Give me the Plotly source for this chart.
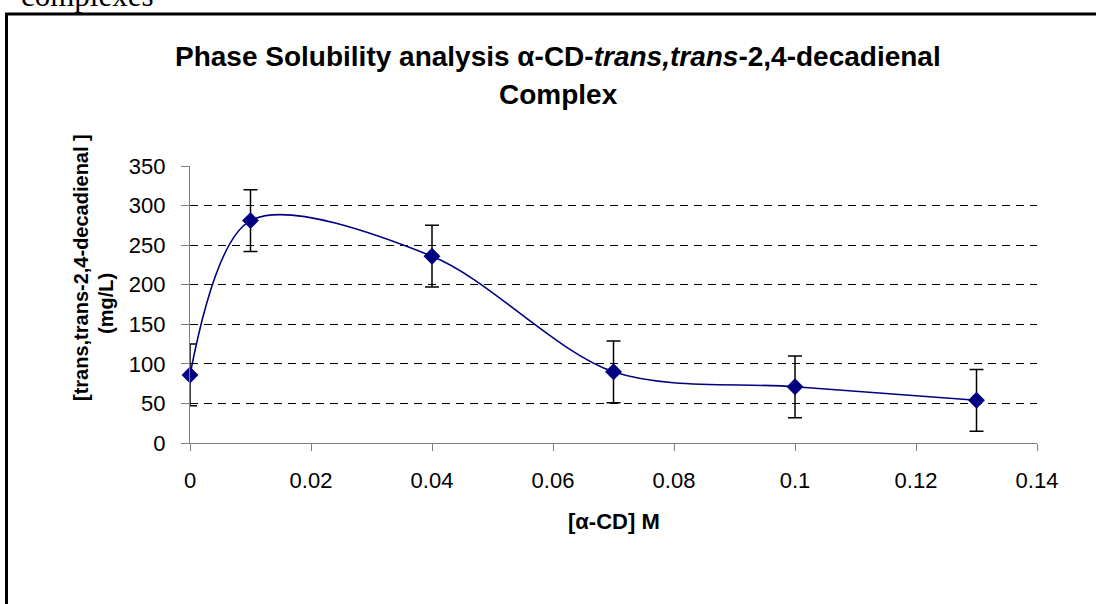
import plotly.graph_objects as go

# Data
conc_m = [0, 0.01, 0.04, 0.07, 0.10, 0.13]
decadienal_mg_l = [86, 281, 236, 90, 71, 54]
error_mg_l = [39, 39, 39, 39, 39, 39]

x_ticks = [0, 0.02, 0.04, 0.06, 0.08, 0.1, 0.12, 0.14]
x_tick_labels = ["0", "0.02", "0.04", "0.06", "0.08", "0.1", "0.12", "0.14"]
y_ticks = [0, 50, 100, 150, 200, 250, 300, 350]

W, H = 1096, 604
L, R, T, B = 190, 59, 166, 161
PW, PH = W - L - R, H - T - B


def px(xp):
    return (xp - L) / PW


def py(yp):
    return (H - B - yp) / PH


font_family = "Arial, Liberation Sans, sans-serif"

fig = go.Figure()
fig.add_trace(go.Scatter(
    x=conc_m, y=decadienal_mg_l,
    mode="lines+markers",
    line=dict(color="#000080", width=1.6, shape="spline", smoothing=0.9),
    marker=dict(symbol="diamond", size=13, color="#000080"),
    error_y=dict(type="data", array=error_mg_l, visible=True,
                 color="black", thickness=1.5, width=7),
    cliponaxis=False,
    showlegend=False,
))

fig.update_layout(
    width=W, height=H,
    margin=dict(l=L, r=R, t=T, b=B),
    paper_bgcolor="white", plot_bgcolor="white",
    font=dict(family=font_family, size=22, color="black"),
    xaxis=dict(
        range=[0, 0.14], tickvals=x_ticks, ticktext=x_tick_labels,
        showgrid=False, zeroline=False,
        showline=True, linecolor="#808080", linewidth=1.2,
        ticks="outside", ticklen=7, tickcolor="#808080", tickwidth=1.2,
        tickfont=dict(size=22), ticklabelstandoff=10,
    ),
    yaxis=dict(
        range=[0, 350], tickvals=y_ticks,
        showgrid=True, gridcolor="black", gridwidth=1, griddash="8px,6px",
        zeroline=False,
        showline=True, linecolor="#808080", linewidth=1.2,
        ticks="outside", ticklen=8, tickcolor="#808080", tickwidth=1.2,
        tickfont=dict(size=22), ticklabelstandoff=11,
    ),
)

ann = [
    dict(text="Phase Solubility analysis α-CD-<i>trans,trans</i>-2,4-decadienal",
         x=px(558), y=py(57), size=28, angle=0),
    dict(text="Complex", x=px(558), y=py(94), size=28, angle=0),
    dict(text="[α-CD] M", x=px(614), y=py(521), size=22, angle=0),
    dict(text="[trans,trans-2,4-decadienal ]", x=px(81), y=py(268), size=20, angle=-90),
    dict(text="(mg/L)", x=px(106), y=py(304), size=20, angle=-90),
]
for a in ann:
    fig.add_annotation(
        text="<b>" + a["text"] + "</b>", x=a["x"], y=a["y"],
        xref="paper", yref="paper", xanchor="center", yanchor="middle",
        showarrow=False, font=dict(family=font_family, color="black", size=a["size"]),
        textangle=a["angle"],
    )

fig.add_annotation(
    text="complexes", x=px(19), y=py(-4), xref="paper", yref="paper",
    xanchor="left", yanchor="middle", showarrow=False,
    font=dict(family="Liberation Serif, Times New Roman, serif", size=31, color="black"),
)

fig.add_shape(type="rect", xref="paper", yref="paper",
              x0=px(6.5), x1=px(1105), y0=py(615), y1=py(14),
              line=dict(color="black", width=3), fillcolor="rgba(0,0,0,0)", layer="below")

fig.write_html("out.html")
